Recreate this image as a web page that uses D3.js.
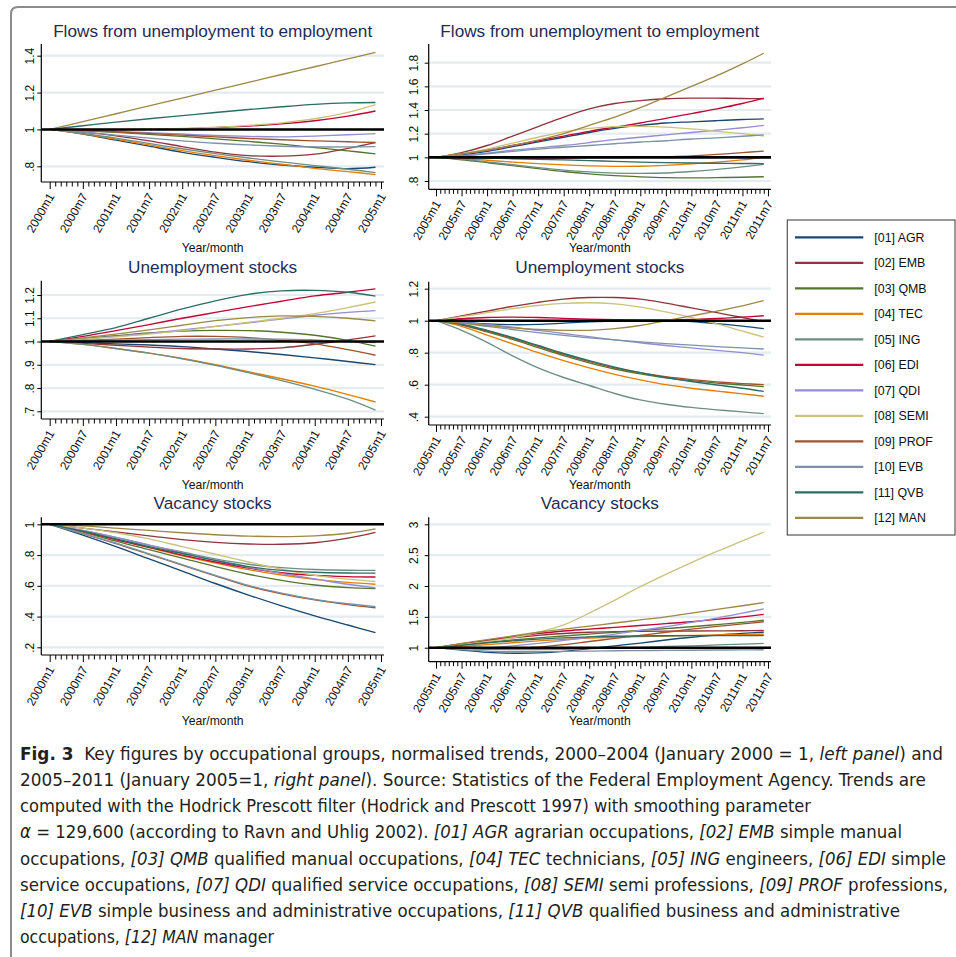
<!DOCTYPE html>
<html>
<head>
<meta charset="utf-8">
<script src="https://cdnjs.cloudflare.com/ajax/libs/d3/7.8.5/d3.min.js"></script>
<style>
  html, body { margin: 0; padding: 0; background: #fff; }
  svg { display: block; }
</style>
</head>
<body>
<div id="chart"></div>
<script>
// Occupational groups (legend order) and their line colours
const groups = ["[01] AGR", "[02] EMB", "[03] QMB", "[04] TEC", "[05] ING", "[06] EDI",
                "[07] QDI", "[08] SEMI", "[09] PROF", "[10] EVB", "[11] QVB", "[12] MAN"];
const groupColors = ["#1a476f", "#90353b", "#55752f", "#e37e00", "#6e8e84", "#c10534",
                     "#938dd2", "#cac27e", "#a0522d", "#7b92a8", "#2d6d66", "#9c8847"];

// Month offsets of the sampled trend values (0 = January of the first year)
const monthsLeft = [0, 6, 12, 18, 24, 30, 36, 42, 48, 54, 59];          // 2000m1 .. 2004m12
const monthsRight = [0, 6, 12, 18, 24, 30, 36, 42, 48, 54, 60, 66, 72, 77]; // 2005m1 .. 2011m6

// x tick labels
const monthLabelsLeft = ["2000m1", "2000m7", "2001m1", "2001m7", "2002m1", "2002m7",
                         "2003m1", "2003m7", "2004m1", "2004m7", "2005m1"];
const monthLabelsRight = ["2005m1", "2005m7", "2006m1", "2006m7", "2007m1", "2007m7", "2008m1",
                          "2008m7", "2009m1", "2009m7", "2010m1", "2010m7", "2011m1", "2011m7"];

// y tick values
const yTicksFlowsLeft = [0.8, 1, 1.2, 1.4];
const yTicksFlowsRight = [0.8, 1, 1.2, 1.4, 1.6, 1.8];
const yTicksUnempLeft = [0.7, 0.8, 0.9, 1, 1.1, 1.2];
const yTicksUnempRight = [0.4, 0.6, 0.8, 1, 1.2];
const yTicksVacLeft = [0.2, 0.4, 0.6, 0.8, 1];
const yTicksVacRight = [1, 1.5, 2, 2.5, 3];

// Flows from unemployment to employment, 2000-2004 (series in legend order)
const flowsLeft = [
  [1, 0.975, 0.942, 0.909, 0.876, 0.849, 0.825, 0.807, 0.795, 0.787, 0.795],
  [1, 0.985, 0.965, 0.938, 0.907, 0.877, 0.858, 0.855, 0.866, 0.897, 0.928],
  [1, 0.993, 0.984, 0.973, 0.962, 0.949, 0.935, 0.920, 0.902, 0.884, 0.867],
  [1, 0.976, 0.947, 0.916, 0.885, 0.858, 0.833, 0.811, 0.789, 0.771, 0.755],
  [1, 0.978, 0.953, 0.924, 0.895, 0.869, 0.845, 0.824, 0.804, 0.784, 0.766],
  [1, 0.998, 0.998, 1.000, 1.003, 1.010, 1.018, 1.030, 1.047, 1.072, 1.100],
  [1, 0.995, 0.989, 0.982, 0.975, 0.967, 0.962, 0.960, 0.964, 0.971, 0.977],
  [1, 1.000, 1.000, 1.002, 1.005, 1.012, 1.022, 1.036, 1.058, 1.093, 1.135],
  [1, 0.996, 0.987, 0.978, 0.969, 0.960, 0.951, 0.944, 0.938, 0.933, 0.929],
  [1, 0.985, 0.969, 0.953, 0.938, 0.925, 0.916, 0.909, 0.905, 0.905, 0.907],
  [1, 1.020, 1.040, 1.058, 1.075, 1.092, 1.108, 1.123, 1.136, 1.144, 1.146],
  [1, 1.042, 1.085, 1.128, 1.170, 1.213, 1.255, 1.298, 1.340, 1.383, 1.418]
];

// Flows from unemployment to employment, 2005-2011
const flowsRight = [
  [1, 1.02, 1.05, 1.09, 1.13, 1.17, 1.21, 1.245, 1.27, 1.29, 1.30, 1.31, 1.32, 1.325],
  [1, 1.04, 1.10, 1.18, 1.26, 1.34, 1.41, 1.455, 1.48, 1.495, 1.50, 1.50, 1.497, 1.495],
  [1, 0.98, 0.955, 0.93, 0.905, 0.88, 0.86, 0.845, 0.835, 0.828, 0.826, 0.828, 0.832, 0.836],
  [1, 0.99, 0.975, 0.96, 0.947, 0.936, 0.928, 0.924, 0.925, 0.932, 0.945, 0.96, 0.978, 1.005],
  [1, 0.985, 0.962, 0.937, 0.913, 0.892, 0.877, 0.867, 0.864, 0.868, 0.88, 0.898, 0.92, 0.94],
  [1, 1.03, 1.06, 1.10, 1.14, 1.18, 1.22, 1.255, 1.29, 1.33, 1.37, 1.41, 1.455, 1.50],
  [1, 1.015, 1.035, 1.06, 1.08, 1.10, 1.125, 1.15, 1.17, 1.19, 1.21, 1.23, 1.25, 1.27],
  [1, 1.03, 1.07, 1.12, 1.17, 1.215, 1.245, 1.26, 1.262, 1.255, 1.24, 1.22, 1.20, 1.18],
  [1, 0.998, 0.995, 0.993, 0.993, 0.994, 0.996, 0.998, 1.0, 1.005, 1.012, 1.025, 1.04, 1.053],
  [1, 1.01, 1.03, 1.05, 1.07, 1.085, 1.10, 1.115, 1.13, 1.14, 1.155, 1.165, 1.178, 1.19],
  [1, 0.997, 0.993, 0.988, 0.983, 0.978, 0.972, 0.966, 0.96, 0.955, 0.952, 0.95, 0.948, 0.947],
  [1, 1.03, 1.06, 1.10, 1.145, 1.20, 1.27, 1.34, 1.42, 1.51, 1.60, 1.69, 1.79, 1.88]
];

// Unemployment stocks, 2000-2004
const unempLeft = [
  [1, 0.995, 0.99, 0.985, 0.978, 0.968, 0.957, 0.944, 0.930, 0.914, 0.901],
  [1, 0.992, 0.984, 0.976, 0.970, 0.968, 0.968, 0.973, 0.988, 1.007, 1.024],
  [1, 1.012, 1.025, 1.037, 1.045, 1.048, 1.047, 1.040, 1.027, 1.005, 0.980],
  [1, 0.988, 0.970, 0.950, 0.927, 0.900, 0.870, 0.840, 0.808, 0.772, 0.740],
  [1, 0.988, 0.970, 0.950, 0.926, 0.898, 0.866, 0.832, 0.795, 0.752, 0.705],
  [1, 1.022, 1.047, 1.073, 1.100, 1.125, 1.150, 1.173, 1.196, 1.212, 1.226],
  [1, 1.010, 1.022, 1.035, 1.050, 1.065, 1.080, 1.097, 1.113, 1.125, 1.133],
  [1, 1.010, 1.020, 1.032, 1.047, 1.065, 1.083, 1.100, 1.120, 1.146, 1.170],
  [1, 1.005, 1.010, 1.017, 1.022, 1.022, 1.017, 1.005, 0.990, 0.965, 0.941],
  [1, 1.003, 1.006, 1.008, 1.010, 1.011, 1.011, 1.010, 1.007, 1.000, 0.995],
  [1, 1.030, 1.060, 1.100, 1.140, 1.175, 1.203, 1.218, 1.220, 1.212, 1.195],
  [1, 1.015, 1.032, 1.050, 1.070, 1.090, 1.103, 1.110, 1.108, 1.100, 1.089]
];

// Unemployment stocks, 2005-2011
const unempRight = [
  [1, 0.99, 0.98, 0.975, 0.977, 0.985, 0.993, 0.998, 1.0, 1.0, 0.995, 0.982, 0.966, 0.95],
  [1, 1.03, 1.06, 1.09, 1.115, 1.135, 1.145, 1.145, 1.135, 1.11, 1.08, 1.05, 1.02, 0.994],
  [1, 0.972, 0.93, 0.883, 0.832, 0.782, 0.737, 0.698, 0.668, 0.643, 0.625, 0.61, 0.598, 0.588],
  [1, 0.965, 0.91, 0.855, 0.80, 0.75, 0.705, 0.665, 0.63, 0.60, 0.578, 0.56, 0.543, 0.528],
  [1, 0.94, 0.865, 0.78, 0.705, 0.645, 0.595, 0.545, 0.505, 0.478, 0.458, 0.443, 0.43, 0.419],
  [1, 1.012, 1.02, 1.022, 1.02, 1.015, 1.01, 1.007, 1.005, 1.005, 1.008, 1.014, 1.022, 1.031],
  [1, 0.99, 0.975, 0.96, 0.94, 0.92, 0.90, 0.88, 0.862, 0.845, 0.83, 0.815, 0.80, 0.785],
  [1, 1.025, 1.05, 1.075, 1.095, 1.108, 1.112, 1.105, 1.085, 1.055, 1.02, 0.98, 0.935, 0.897],
  [1, 0.975, 0.935, 0.89, 0.84, 0.79, 0.745, 0.705, 0.675, 0.65, 0.632, 0.618, 0.607, 0.60],
  [1, 0.985, 0.965, 0.945, 0.925, 0.908, 0.893, 0.88, 0.868, 0.857, 0.847, 0.838, 0.83, 0.823],
  [1, 0.978, 0.94, 0.895, 0.845, 0.795, 0.75, 0.71, 0.675, 0.645, 0.62, 0.598, 0.578, 0.558],
  [1, 0.985, 0.97, 0.955, 0.945, 0.94, 0.94, 0.95, 0.97, 1.0, 1.03, 1.06, 1.093, 1.125]
];

// Vacancy stocks, 2000-2004
const vacLeft = [
  [1, 0.930, 0.855, 0.775, 0.695, 0.615, 0.540, 0.470, 0.405, 0.345, 0.295],
  [1, 0.975, 0.950, 0.925, 0.900, 0.882, 0.872, 0.870, 0.880, 0.910, 0.948],
  [1, 0.950, 0.890, 0.835, 0.780, 0.725, 0.675, 0.635, 0.605, 0.588, 0.582],
  [1, 0.955, 0.900, 0.848, 0.795, 0.748, 0.705, 0.670, 0.642, 0.622, 0.610],
  [1, 0.960, 0.915, 0.865, 0.820, 0.775, 0.740, 0.718, 0.706, 0.701, 0.700],
  [1, 0.955, 0.900, 0.850, 0.800, 0.755, 0.715, 0.685, 0.668, 0.660, 0.657],
  [1, 0.960, 0.915, 0.865, 0.815, 0.765, 0.720, 0.680, 0.645, 0.610, 0.587],
  [1, 0.975, 0.945, 0.905, 0.855, 0.805, 0.755, 0.708, 0.668, 0.643, 0.628],
  [1, 0.940, 0.875, 0.805, 0.735, 0.665, 0.598, 0.548, 0.508, 0.478, 0.457],
  [1, 0.940, 0.877, 0.808, 0.738, 0.668, 0.602, 0.552, 0.512, 0.483, 0.465],
  [1, 0.955, 0.905, 0.855, 0.810, 0.765, 0.725, 0.700, 0.688, 0.683, 0.682],
  [1, 0.990, 0.975, 0.960, 0.945, 0.932, 0.923, 0.920, 0.925, 0.942, 0.970]
];

// Vacancy stocks, 2005-2011
const vacRight = [
  [1, 0.96, 0.925, 0.91, 0.915, 0.94, 0.985, 1.03, 1.075, 1.125, 1.17, 1.205, 1.232, 1.25],
  [1, 1.06, 1.11, 1.16, 1.20, 1.23, 1.25, 1.26, 1.265, 1.268, 1.27, 1.272, 1.275, 1.278],
  [1, 1.04, 1.085, 1.125, 1.16, 1.19, 1.22, 1.25, 1.28, 1.31, 1.34, 1.375, 1.41, 1.445],
  [1, 1.02, 1.05, 1.08, 1.11, 1.135, 1.155, 1.17, 1.18, 1.19, 1.20, 1.207, 1.213, 1.218],
  [1, 0.985, 0.975, 0.97, 0.97, 0.975, 0.985, 0.995, 1.005, 1.02, 1.03, 1.045, 1.058, 1.07],
  [1, 1.06, 1.12, 1.18, 1.23, 1.27, 1.30, 1.33, 1.36, 1.39, 1.42, 1.46, 1.50, 1.54],
  [1, 0.995, 1.0, 1.03, 1.07, 1.12, 1.17, 1.22, 1.28, 1.34, 1.41, 1.48, 1.56, 1.63],
  [1, 1.05, 1.10, 1.16, 1.25, 1.37, 1.56, 1.77, 1.99, 2.19, 2.38, 2.56, 2.73, 2.875],
  [1, 0.99, 0.985, 0.99, 1.01, 1.05, 1.10, 1.15, 1.20, 1.25, 1.30, 1.345, 1.385, 1.42],
  [1, 0.97, 0.945, 0.935, 0.935, 0.94, 0.945, 0.95, 0.953, 0.956, 0.959, 0.962, 0.965, 0.967],
  [1, 1.04, 1.08, 1.11, 1.14, 1.16, 1.175, 1.185, 1.19, 1.193, 1.195, 1.196, 1.196, 1.196],
  [1, 1.07, 1.13, 1.19, 1.25, 1.30, 1.35, 1.40, 1.45, 1.50, 1.56, 1.62, 1.68, 1.73]
];

// ---------------------------------------------------------------------------
const W = 956, H = 957;
const svg = d3.select("#chart").append("svg")
  .attr("width", W).attr("height", H)
  .attr("viewBox", `0 0 ${W} ${H}`);

svg.append("rect").attr("width", W).attr("height", H).attr("fill", "#fff");

// page frame (top rule and left rule with a rounded corner)
svg.append("path")
  .attr("d", `M11,${H} V14 Q11,7 18,7 H${W}`)
  .attr("fill", "none").attr("stroke", "#8c8c8c").attr("stroke-width", 2);

const fontAxis = "'Liberation Sans', Arial, Helvetica, sans-serif";
const titleColor = "#1f2c56";

const cols = {
  left:  { axisX: 41.3, right: 384, x0: 49.7, x1: 381, months: monthsLeft, labels: monthLabelsLeft, span: 60, labelOff: 12 },
  right: { axisX: 428.7, right: 771, x0: 436, x1: 768, months: monthsRight, labels: monthLabelsRight, span: 78, labelOff: 15.5 }
};

const panels = [
  { col: "left",  title: "Flows from unemployment to employment", data: flowsLeft,  ticks: yTicksFlowsLeft,  tickPx: [166.3, 55.7], top: 44,    bottom: 182,   titleY: 36.5,  xTitleY: 252 },
  { col: "right", title: "Flows from unemployment to employment", data: flowsRight, ticks: yTicksFlowsRight, tickPx: [181, 62.7],   top: 44,    bottom: 189.3, titleY: 36.5,  xTitleY: 252 },
  { col: "left",  title: "Unemployment stocks", data: unempLeft,  ticks: yTicksUnempLeft,  tickPx: [411.3, 295],  top: 280.7, bottom: 419,   titleY: 272.5, xTitleY: 489 },
  { col: "right", title: "Unemployment stocks", data: unempRight, ticks: yTicksUnempRight, tickPx: [416.7, 288.7], top: 281.7, bottom: 425,  titleY: 272.5, xTitleY: 489 },
  { col: "left",  title: "Vacancy stocks", data: vacLeft,  ticks: yTicksVacLeft,  tickPx: [647.3, 524.3], top: 517.3, bottom: 655,   titleY: 508.5, xTitleY: 725 },
  { col: "right", title: "Vacancy stocks", data: vacRight, ticks: yTicksVacRight, tickPx: [647.7, 524.3], top: 517.3, bottom: 661.7, titleY: 508.5, xTitleY: 725 }
];

const fmt = v => String(+v.toFixed(2)).replace(/^0\./, ".");

panels.forEach(p => {
  const c = cols[p.col];
  const g = svg.append("g");
  const x = d3.scaleLinear().domain([0, c.span]).range([c.x0, c.x1]);
  const y = d3.scaleLinear().domain([p.ticks[0], p.ticks[p.ticks.length - 1]]).range(p.tickPx);

  // title
  g.append("text")
    .attr("x", (c.axisX + c.right) / 2).attr("y", p.titleY)
    .attr("text-anchor", "middle")
    .attr("font-family", fontAxis).attr("font-size", 17.2)
    .attr("fill", titleColor)
    .text(p.title);

  // horizontal grid lines
  g.selectAll("line.grid").data(p.ticks).join("line")
    .attr("class", "grid")
    .attr("x1", c.axisX).attr("x2", c.right)
    .attr("y1", d => y(d)).attr("y2", d => y(d))
    .attr("stroke", "#e4ecef").attr("stroke-width", 2.2);

  // trend lines
  const line = d3.line()
    .x((d, i) => x(c.months[i]))
    .y(d => y(d))
    .curve(d3.curveCatmullRom.alpha(0.5));

  g.selectAll("path.series").data(p.data).join("path")
    .attr("class", "series")
    .attr("d", d => line(d))
    .attr("fill", "none")
    .attr("stroke", (d, i) => groupColors[i])
    .attr("stroke-width", 1.35);

  // reference line at 1
  g.append("line")
    .attr("x1", c.axisX).attr("x2", c.right)
    .attr("y1", y(1)).attr("y2", y(1))
    .attr("stroke", "#000").attr("stroke-width", 2.6);

  // y axis
  const yAxis = d3.axisLeft(y).tickValues(p.ticks).tickSize(4).tickFormat(fmt);
  const ya = g.append("g").attr("transform", `translate(${c.axisX},0)`).call(yAxis);
  ya.select(".domain").remove();
  ya.selectAll(".tick line").attr("stroke", "#000");
  ya.selectAll(".tick text")
    .attr("x", null).attr("dy", "0.36em")
    .attr("transform", `translate(${-c.labelOff},0) rotate(-90)`)
    .attr("text-anchor", "middle")
    .attr("font-family", fontAxis).attr("font-size", 12)
    .attr("fill", "#111");
  g.append("line")
    .attr("x1", c.axisX).attr("x2", c.axisX)
    .attr("y1", p.top).attr("y2", p.bottom)
    .attr("stroke", "#000").attr("stroke-width", 1.2);

  // x axis: monthly minor ticks, labelled ticks every six months
  const minor = d3.range(0, c.span + 1);
  const majorVals = c.labels.map((_, i) => i * 6);
  const xaMinor = d3.axisBottom(x).tickValues(minor.filter(m => m % 6 !== 0)).tickSize(4.5).tickFormat("");
  const xaMajor = d3.axisBottom(x).tickValues(majorVals).tickSize(7)
    .tickFormat((d, i) => c.labels[i]);
  const gm = g.append("g").attr("transform", `translate(0,${p.bottom})`).call(xaMinor);
  gm.select(".domain").remove();
  gm.selectAll(".tick line").attr("stroke", "#000");
  const gM = g.append("g").attr("transform", `translate(0,${p.bottom})`).call(xaMajor);
  gM.select(".domain").remove();
  gM.selectAll(".tick line").attr("stroke", "#000");
  gM.selectAll(".tick text")
    .attr("y", null).attr("dy", "0.36em")
    .attr("transform", "translate(1,12) rotate(-60)")
    .attr("text-anchor", "end")
    .attr("font-family", fontAxis).attr("font-size", 12)
    .attr("fill", "#111");
  g.append("line")
    .attr("x1", c.axisX).attr("x2", c.right)
    .attr("y1", p.bottom).attr("y2", p.bottom)
    .attr("stroke", "#000").attr("stroke-width", 1.2);

  // x axis title
  g.append("text")
    .attr("x", (c.axisX + c.right) / 2).attr("y", p.xTitleY)
    .attr("text-anchor", "middle")
    .attr("font-family", fontAxis).attr("font-size", 12.2)
    .attr("fill", "#111")
    .text("Year/month");
});

// legend
const legend = svg.append("g");
legend.append("rect")
  .attr("x", 787.3).attr("y", 220).attr("width", 167.7).attr("height", 315)
  .attr("fill", "#fff").attr("stroke", "#555").attr("stroke-width", 1.2);
const rowY = i => 237.3 + i * 25.5;
legend.selectAll("line.key").data(groups).join("line")
  .attr("class", "key")
  .attr("x1", 795).attr("x2", 863.3)
  .attr("y1", (d, i) => rowY(i)).attr("y2", (d, i) => rowY(i))
  .attr("stroke", (d, i) => groupColors[i]).attr("stroke-width", 2.2);
legend.selectAll("text.key").data(groups).join("text")
  .attr("class", "key")
  .attr("x", 874.3).attr("y", (d, i) => rowY(i)).attr("dy", "0.36em")
  .attr("font-family", fontAxis).attr("font-size", 12.4)
  .attr("fill", "#111")
  .text(d => d);

// figure caption
const capFont = "'Liberation Sans Narrow', 'DejaVu Sans Condensed', 'Arial Narrow', sans-serif";
const captionLines = [
  { w: 923, parts: [["Fig. 3", "b"], ["  Key figures by occupational groups, normalised trends, 2000–2004 (January 2000 = 1, ", ""], ["left panel", "i"], [") and", ""]] },
  { w: 906, parts: [["2005–2011 (January 2005=1, ", ""], ["right panel", "i"], ["). Source: Statistics of the Federal Employment Agency. Trends are", ""]] },
  { w: 791, parts: [["computed with the Hodrick Prescott filter (Hodrick and Prescott 1997) with smoothing parameter", ""]] },
  { w: 882, parts: [["α", "i"], [" = 129,600 (according to Ravn and Uhlig 2002). ", ""], ["[01] AGR", "i"], [" agrarian occupations, ", ""], ["[02] EMB", "i"], [" simple manual", ""]] },
  { w: 926, parts: [["occupations, ", ""], ["[03] QMB", "i"], [" qualified manual occupations, ", ""], ["[04] TEC", "i"], [" technicians, ", ""], ["[05] ING", "i"], [" engineers, ", ""], ["[06] EDI", "i"], [" simple", ""]] },
  { w: 928, parts: [["service occupations, ", ""], ["[07] QDI", "i"], [" qualified service occupations, ", ""], ["[08] SEMI", "i"], [" semi professions, ", ""], ["[09] PROF", "i"], [" professions,", ""]] },
  { w: 880, parts: [["[10] EVB", "i"], [" simple business and administrative occupations, ", ""], ["[11] QVB", "i"], [" qualified business and administrative", ""]] },
  { w: 254, parts: [["occupations, ", ""], ["[12] MAN", "i"], [" manager", ""]] }
];
const cap = svg.append("g");
captionLines.forEach((ln, k) => {
  const t = cap.append("text")
    .attr("x", 20).attr("y", 760 + k * 26.15)
    .attr("font-family", capFont).attr("font-size", 18.5)
    .attr("fill", "#231f20")
    .attr("textLength", ln.w).attr("lengthAdjust", "spacingAndGlyphs")
    .attr("xml:space", "preserve");
  ln.parts.forEach(([s, st]) => {
    t.append("tspan")
      .attr("font-weight", st === "b" ? "bold" : null)
      .attr("font-style", st === "i" ? "italic" : null)
      .text(s);
  });
});
</script>
</body>
</html>
